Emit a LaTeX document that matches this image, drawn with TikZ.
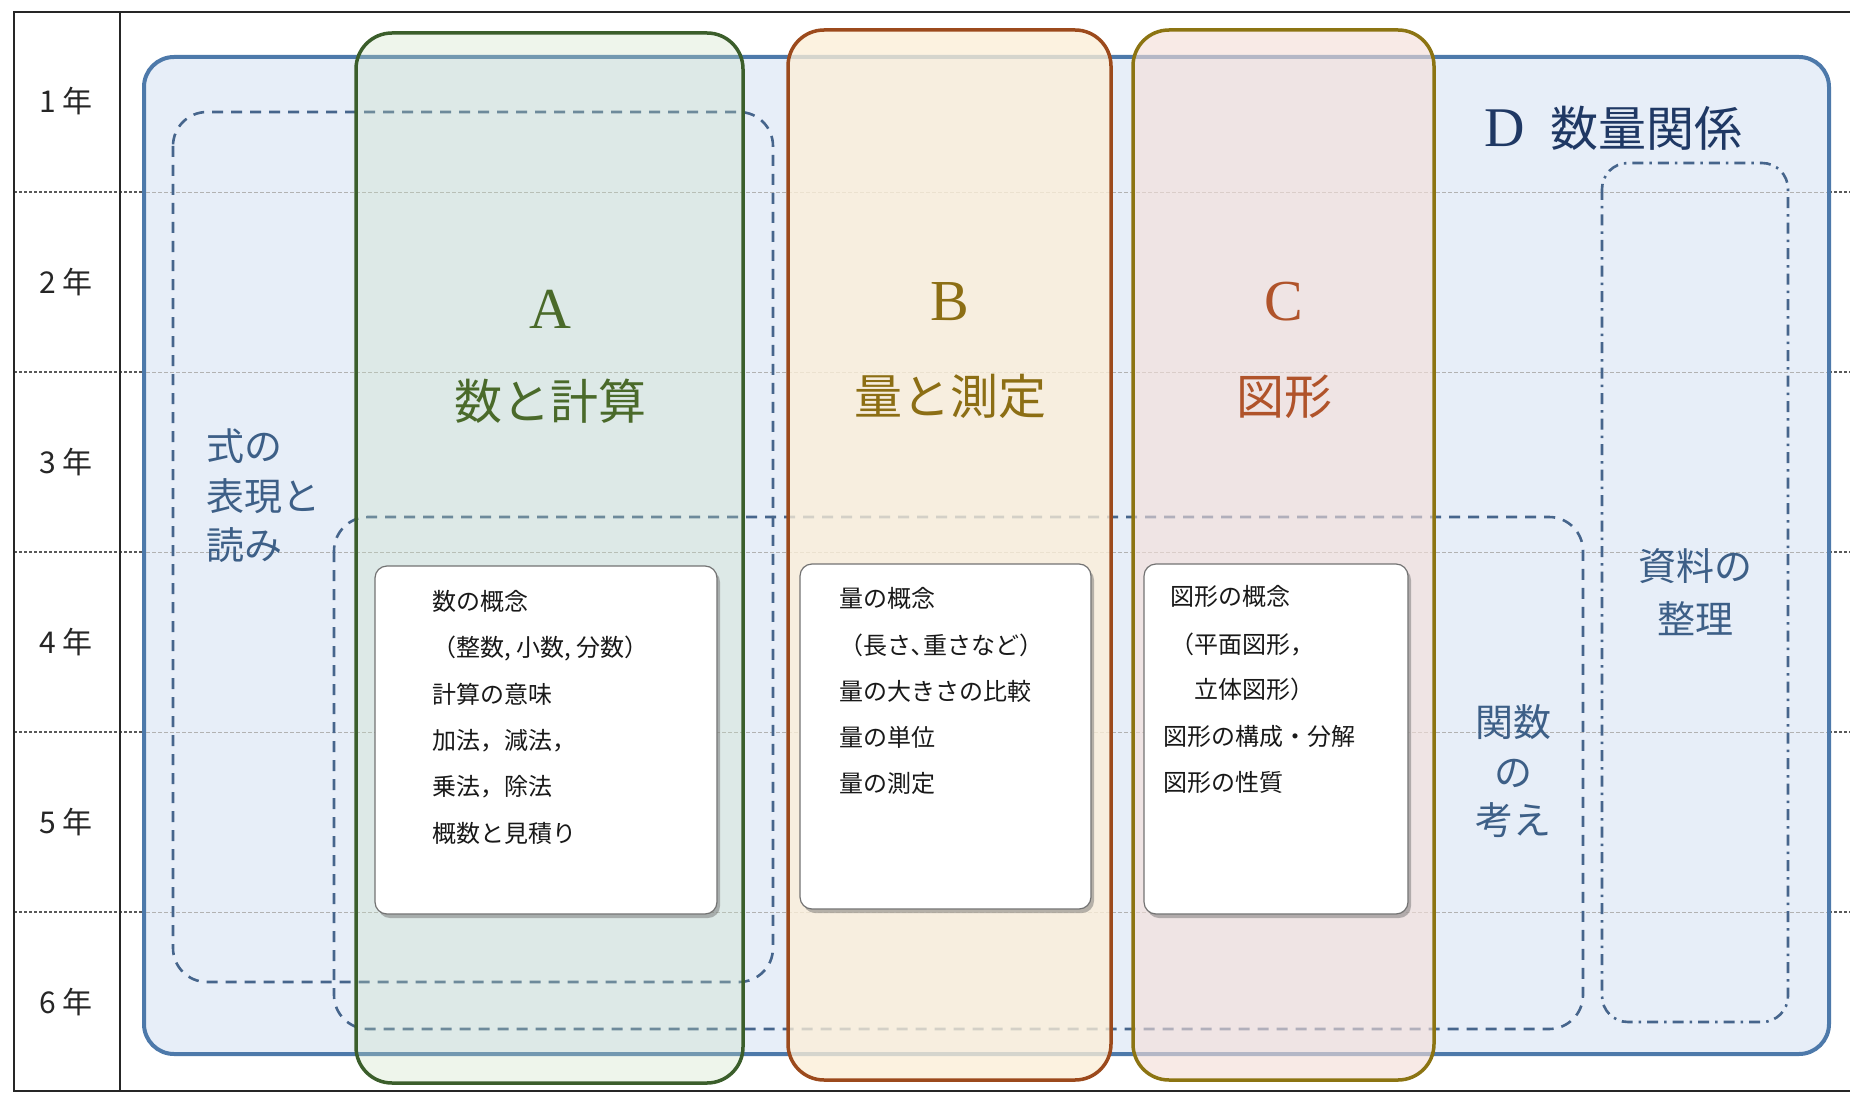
\documentclass[tikz,border=0pt]{standalone}
\usepackage{fontspec}
\setmainfont{Liberation Serif}
\newfontfamily\jp{Noto Sans CJK JP}
\usetikzlibrary{shadows}
\definecolor{dfill}{HTML}{E7EEF8}
\definecolor{dline}{HTML}{4D79AA}
\definecolor{aline}{HTML}{3B5E2B}
\definecolor{afill}{HTML}{C8E0C0}
\definecolor{bline}{HTML}{9C4A1C}
\definecolor{bfill}{HTML}{FCEFD8}
\definecolor{cline}{HTML}{8C7412}
\definecolor{cfill}{HTML}{F4DED8}
\definecolor{atext}{HTML}{4A6A2A}
\definecolor{btext}{HTML}{8C6E14}
\definecolor{ctext}{HTML}{B0532A}
\definecolor{dtext}{HTML}{1F3864}
\definecolor{sidetext}{HTML}{3D5F87}
\definecolor{dashc}{HTML}{46658C}
\begin{document}
\begin{tikzpicture}[x=1pt,y=-1pt,
  gridline/.style={draw=black!65, line width=1.3pt, dash pattern=on 3pt off 2pt},
  gridlight/.style={draw=black!30, line width=0.9pt, dash pattern=on 4pt off 2pt},
  dbox/.style={fill=dfill, draw=dline, line width=4pt, rounded corners=30pt},
  catbox/.style={line width=3.5pt, rounded corners=36pt},
  dashbox/.style={draw=dashc, line width=2.6pt, dash pattern=on 11pt off 8pt, rounded corners=34pt},
  dotbox/.style={draw=dashc, line width=2.6pt, dash pattern=on 11pt off 6pt on 2.5pt off 6pt, rounded corners=26pt},
  whitebox/.style={fill=white, draw=black!55, line width=1.2pt, rounded corners=12pt,
    drop shadow={shadow xshift=3pt, shadow yshift=-4pt, opacity=0.45, fill=black!60}},
  frame/.style={draw=black!85, line width=2pt},
  yearlbl/.style={font=\jp\fontsize{30}{30}\selectfont, text=black!85, anchor=base, inner sep=0pt},
  innertext/.style={font=\jp\fontsize{24}{24}\selectfont, text=black!90, anchor=base west, inner sep=0pt},
  latinhead/.style={font=\fontsize{58}{58}\selectfont, anchor=base, inner sep=0pt},
  jphead/.style={font=\jp\fontsize{48}{48}\selectfont, anchor=base, inner sep=0pt},
  sidelbl/.style={font=\jp\fontsize{38}{38}\selectfont, text=sidetext, inner sep=0pt}
]
\useasboundingbox (0,0) rectangle (1850,1094);
\fill[white] (0,0) rectangle (1850,1094);

% row lines (dark part)
\foreach \yy in {192,372,552,732,912} \draw[gridline] (14,\yy) -- (1850,\yy);

% D box
\draw[dbox] (144,57) rectangle (1829,1054);
% light row lines over D
\foreach \yy in {192,372,552,732,912} \draw[gridlight] (146,\yy) -- (1827,\yy);

% dashed / dash-dot boxes
\draw[dashbox] (173,112) rectangle (773,982);
\draw[dashbox] (334,517) rectangle (1583,1029);
\draw[dotbox] (1602,163) rectangle (1788,1022);

% A, B, C boxes
\fill[afill, fill opacity=0.3, rounded corners=36pt] (356,33) rectangle (743,1083);
\draw[catbox, draw=aline] (356,33) rectangle (743,1083);
\fill[bfill, fill opacity=0.78, rounded corners=36pt] (788,30) rectangle (1111,1080);
\draw[catbox, draw=bline] (788,30) rectangle (1111,1080);
\fill[cfill, fill opacity=0.62, rounded corners=36pt] (1133,30) rectangle (1434,1080);
\draw[catbox, draw=cline] (1133,30) rectangle (1434,1080);

% white boxes
\path[whitebox] (375,566) rectangle (717,914);
\path[whitebox] (800,564) rectangle (1091,909);
\path[whitebox] (1144,564) rectangle (1408,914);

% frame
\draw[frame] (1850,12) -- (14,12) -- (14,1091) -- (1850,1091);
\draw[frame] (120,12) -- (120,1091);

% year labels
\node[yearlbl] (y1) at (66,113) {1\hspace{7pt}年};
\node[yearlbl] (y2) at (66,293) {2\hspace{7pt}年};
\node[yearlbl] (y3) at (66,473) {3\hspace{7pt}年};
\node[yearlbl] (y4) at (66,653) {4\hspace{7pt}年};
\node[yearlbl] (y5) at (66,833) {5\hspace{7pt}年};
\node[yearlbl] (y6) at (66,1013) {6\hspace{7pt}年};

% headings
\node[latinhead, text=atext] (hA) at (550,328) {A};
\node[jphead, text=atext] (tA) at (550,419) {数と計算};
\node[latinhead, text=btext] (hB) at (950,320) {B};
\node[jphead, text=btext] (tB) at (950,414) {量と測定};
\node[latinhead, text=ctext] (hC) at (1284,320) {C};
\node[jphead, text=ctext] (tC) at (1284,414) {図形};
\node[anchor=base west, inner sep=0pt, text=dtext] (hD) at (1484,147)
  {{\fontsize{56}{56}\selectfont D}\hspace{26pt}{\jp\fontsize{48}{48}\selectfont 数量関係}};

% side labels
\node[sidelbl, anchor=base west] (s1) at (206,460) {式の};
\node[sidelbl, anchor=base west] (s2) at (206,510) {表現と};
\node[sidelbl, anchor=base west] (s3) at (206,559) {読み};
\node[sidelbl, anchor=base] (k1) at (1513,736) {関数};
\node[sidelbl, anchor=base] (k2) at (1513,786) {の};
\node[sidelbl, anchor=base] (k3) at (1513,834) {考え};
\node[sidelbl, anchor=base] (r1) at (1695,580) {資料の};
\node[sidelbl, anchor=base] (r2) at (1695,633) {整理};

% inner texts A
\node[innertext] (a1) at (432,610) {数の概念};
\node[innertext] (a2) at (432,656) {（整数, 小数, 分数）};
\node[innertext] (a3) at (432,703) {計算の意味};
\node[innertext] (a4) at (432,749) {加法，減法，};
\node[innertext] (a5) at (432,795) {乗法，除法};
\node[innertext] (a6) at (432,842) {概数と見積り};
% inner texts B
\node[innertext] (b1) at (839,607) {量の概念};
\node[innertext] (b2) at (839,654) {（長さ､重さなど）};
\node[innertext] (b3) at (839,700) {量の大きさの比較};
\node[innertext] (b4) at (839,746) {量の単位};
\node[innertext] (b5) at (839,792) {量の測定};
% inner texts C
\node[innertext] (c1) at (1170,605) {図形の概念};
\node[innertext] (c2) at (1170,653) {（平面図形，};
\node[innertext] (c3) at (1194,698) {立体図形）};
\node[innertext] (c4) at (1163,745) {図形の構成・分解};
\node[innertext] (c5) at (1163,791) {図形の性質};
\end{tikzpicture}
\end{document}
